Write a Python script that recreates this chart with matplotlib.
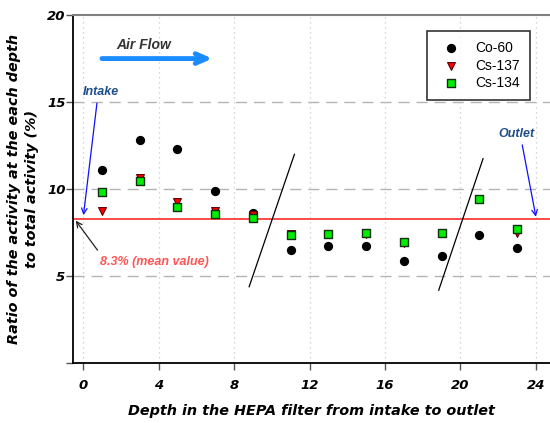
import matplotlib
matplotlib.use("Agg")
from matplotlib import pyplot as plt
import numpy as np

plt.rcParams['font.family'] = ['Liberation Sans', 'DejaVu Sans']

# depth positions and activity ratios (%)
depth = [1, 3, 5, 7, 9, 11, 13, 15, 17, 19, 21, 23]
co60 = [11.1, 12.8, 12.3, 9.9, 8.65, 6.5, 6.75, 6.75, 5.9, 6.15, 7.35, 6.65]
cs137 = [8.75, 10.65, 9.25, 8.75, 8.5, 7.4, 7.4, 7.45, 6.9, 7.5, 9.45, 7.5]
cs134 = [9.85, 10.45, 8.95, 8.55, 8.35, 7.35, 7.4, 7.5, 6.95, 7.5, 9.45, 7.7]
mean_value = 8.3

xticks = [0, 4, 8, 12, 16, 20, 24]
yticks = [0, 5, 10, 15, 20]
ytick_labels = ['', '5', '10', '15', '20']

# decoration lines (break marks) in data coords
break1_x = [8.8, 11.2]
break1_y = [4.4, 12.0]
break2_x = [18.85, 21.2]
break2_y = [4.2, 11.75]

heavy = dict(family='DejaVu Sans', fontweight='bold', fontstyle='italic')

fig = plt.figure(figsize=(5.5, 4.23), dpi=100)
ax = fig.add_axes([0.133, 0.141, 0.867, 0.8235])

ax.set_xlim(-0.53, 24.75)
ax.set_ylim(0, 20)

# grid
for yv in [5, 10, 15]:
    ax.axhline(yv, color='#b4b4b4', lw=1.0, dashes=(8, 5), zorder=0)
for xv in xticks:
    ax.axvline(xv, color='#c8c8c8', lw=0.9, ls=(0, (1, 3)), zorder=0)

ax.axhline(mean_value, color='#ff2a2a', lw=1.2, zorder=1)

ax.scatter(depth, co60, s=32, marker='o', color='black', zorder=3, label='Co-60')
ax.scatter(depth, cs137, s=32, marker='v', color='#ff0000', edgecolor='#600000',
           linewidths=0.8, zorder=4, label='Cs-137')
ax.scatter(depth, cs134, s=30, marker='s', color='#00ee00', edgecolor='#103010',
           linewidths=1.0, zorder=5, label='Cs-134')

ax.plot(break1_x, break1_y, color='black', lw=0.9)
ax.plot(break2_x, break2_y, color='black', lw=0.9)

# annotations
ax.annotate('', xy=(7.0, 17.5), xytext=(0.85, 17.5),
            arrowprops=dict(arrowstyle='->,head_length=0.8,head_width=0.35',
                            color='#1a8cff', lw=3.5))
ax.text(1.75, 18.3, 'Air Flow', fontsize=10, fontweight='bold', fontstyle='italic',
        color='#333333', ha='left', va='center')

ax.annotate('', xy=(0.0, 8.35), xytext=(0.75, 15.1),
            arrowprops=dict(arrowstyle='->', color='#1010ff', lw=0.9))
ax.text(0.0, 15.6, 'Intake', fontsize=9, fontweight='bold', fontstyle='italic',
        color='#1f4e8c', ha='left', va='center')

ax.annotate('', xy=(24.03, 8.26), xytext=(23.25, 12.7),
            arrowprops=dict(arrowstyle='->', color='#1010ff', lw=0.9))
ax.text(22.0, 13.15, 'Outlet', fontsize=9, fontweight='bold', fontstyle='italic',
        color='#1f4e8c', ha='left', va='center')

ax.annotate('', xy=(-0.48, 8.32), xytext=(0.85, 6.37),
            arrowprops=dict(arrowstyle='->', color='#222222', lw=0.9))
ax.text(0.9, 5.82, '8.3% (mean value)', fontsize=9, fontweight='bold', fontstyle='italic',
        color='#ff5555', ha='left', va='center')

# axes styling
ax.spines['right'].set_visible(False)
ax.spines['top'].set_color('#808080')
ax.spines['top'].set_linewidth(1.5)
ax.spines['left'].set_linewidth(1.3)
ax.spines['bottom'].set_linewidth(1.3)

ax.set_xticks(xticks)
ax.set_yticks(yticks)
ax.set_yticklabels(ytick_labels)
ax.tick_params(axis='both', direction='out', length=5, width=1, color='#555555')
for lab in ax.get_xticklabels() + ax.get_yticklabels():
    lab.set_fontfamily('DejaVu Sans')
    lab.set_fontweight('bold')
    lab.set_fontstyle('italic')
    lab.set_fontsize(9.5)
ax.tick_params(axis='x', pad=6)
ax.tick_params(axis='y', pad=0.5)

ax.set_xlabel('Depth in the HEPA filter from intake to outlet', fontsize=10.4,
              labelpad=9, **heavy)
ax.set_ylabel('Ratio of the activity at the each depth\nto total activity (%)', fontsize=10.4,
              labelpad=6, linespacing=1.35, **heavy)

leg = ax.legend(loc='upper right', bbox_to_anchor=(0.958, 0.955), fontsize=10,
                frameon=True, fancybox=False, edgecolor='black', borderpad=0.75,
                handlelength=1.95, handletextpad=0.75, labelspacing=0.25,
                borderaxespad=0)
leg.get_frame().set_linewidth(1.2)

fig.savefig('out.png', dpi=100)
